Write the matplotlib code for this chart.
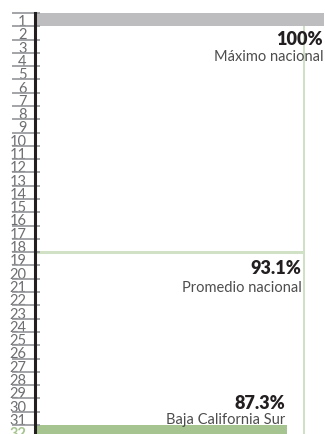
import matplotlib.pyplot as plt
from matplotlib.transforms import blended_transform_factory

# Ranking de entidades (1 = primer lugar, 32 = último)
posiciones = list(range(1, 33))
etiquetas_pos = [str(p) for p in posiciones]

max_nombre = 'Máximo nacional'
max_valor = 100.0
max_pos = 1

prom_nombre = 'Promedio nacional'
prom_valor = 93.1
prom_pos = 18.5

estado_nombre = 'Baja California Sur'
estado_valor = 87.3
estado_pos = 32

gris_barra = '#bdbdc0'
verde = '#a6c48f'
verde_claro = '#d0e1c5'

plt.rcParams['font.family'] = ['Lato', 'DejaVu Sans']

fig = plt.figure(figsize=(3.25, 4.35), dpi=100)
ax = fig.add_axes([35 / 325, 0, 290 / 325, 1 - 14 / 435])
ax.set_xlim(0, 100.3)
ax.set_ylim(32.18, 0.5)

# barras: máximo nacional y la entidad
ax.barh(max_pos, max_valor, height=1.0, color=gris_barra, zorder=2)
ax.barh(estado_pos, estado_valor, height=1.0, color=verde, zorder=2)

# promedio nacional: línea horizontal y referencia vertical
ax.hlines(prom_pos, 0, prom_valor, color=verde_claro, lw=2.2, zorder=2)
ax.vlines(prom_valor, max_pos + 0.5, estado_pos + 0.5, color='#c6dabb', lw=1.2, zorder=1)

# separadores de cada posición junto al eje
trans = blended_transform_factory(ax.transAxes, ax.transData)
bordes = [p - 0.5 for p in posiciones]
ax.hlines(bordes, -23 / 290, 5 / 290, transform=trans, color='#939598',
          lw=1.2, clip_on=False, zorder=3)

ax.set_yticks(posiciones)
ax.set_yticklabels(etiquetas_pos)
ax.tick_params(axis='y', length=0, pad=6, labelsize=10.5, labelcolor='#6d6e71')
ultima = ax.get_yticklabels()[-1]
ultima.set_color(verde)
ultima.set_fontweight('bold')
ax.set_xticks([])

for lado in ['top', 'right', 'bottom']:
    ax.spines[lado].set_visible(False)
ax.spines['left'].set_color('#231f20')
ax.spines['left'].set_linewidth(2.2)
ax.spines['left'].set_zorder(4)

# textos de valores y nombres
def rotulo(valor, pos, nombre, dx, dy_valor, dy_nombre):
    ax.annotate(f'{valor:g}%', xy=(valor, pos), xytext=(dx, dy_valor),
                textcoords='offset points', ha='right', va='center',
                fontsize=13, fontweight='heavy', color='#231f20')
    ax.annotate(nombre, xy=(valor, pos), xytext=(dx, dy_nombre),
                textcoords='offset points', ha='right', va='center',
                fontsize=10.5, color='#4d4d4d')

rotulo(max_valor, max_pos + 0.5, max_nombre, -0.7, -8.5, -21.5)
rotulo(prom_valor, prom_pos, prom_nombre, -2, -11.3, -25)
rotulo(estado_valor, estado_pos - 0.5, estado_nombre, -1.5, 16, 4.5)

fig.savefig('out.png', dpi=100)
